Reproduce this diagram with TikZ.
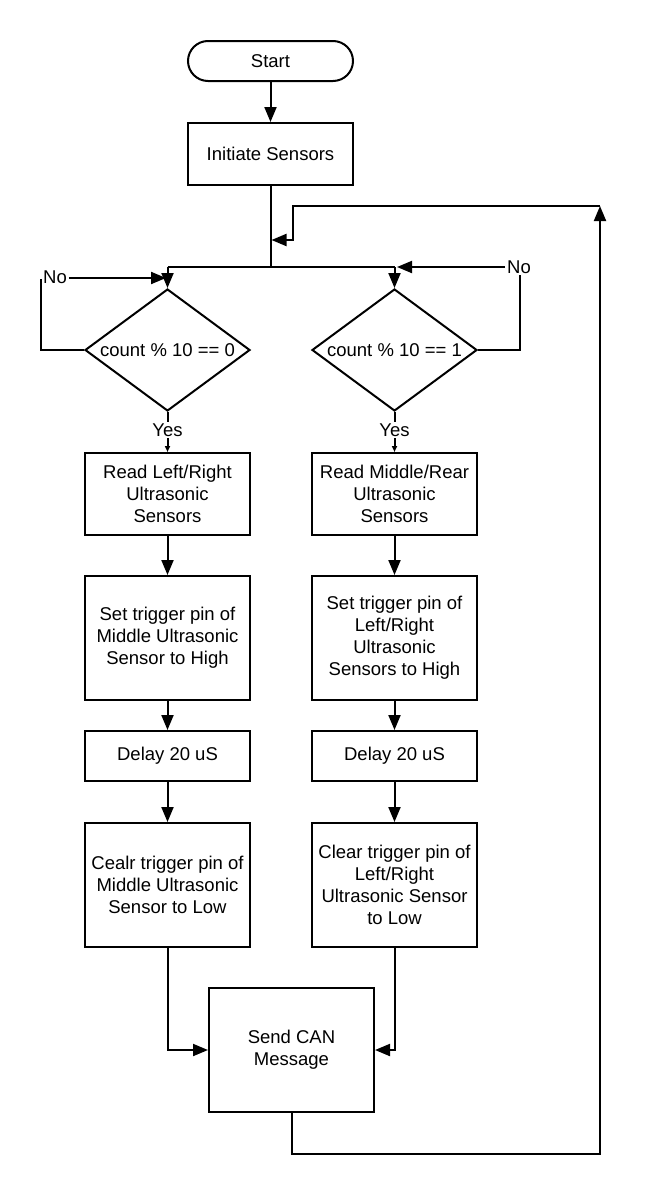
\documentclass[tikz,border=0pt]{standalone}
\usepackage{fontspec}
\setmainfont{Liberation Sans}
\usetikzlibrary{arrows.meta,shapes.geometric,shapes.misc}
\begin{document}
\begin{tikzpicture}[x=1pt,y=-1pt,line width=2pt,
  txt/.style={font=\fontsize{18.5}{22}\selectfont},
  box/.style={draw,txt,minimum width=165pt,align=center,inner sep=0pt},
  dec/.style={draw,diamond,minimum width=165pt,minimum height=122pt,inner sep=0pt},
  term/.style={draw,txt,rounded rectangle,minimum width=165pt,minimum height=40pt,inner sep=0pt},
  lbl/.style={txt,inner sep=1pt},
  arr/.style={-{Triangle[length=15pt,width=12pt]}},
  sarr/.style={-{Triangle[length=6pt,width=5pt]}}]
\useasboundingbox (0,0) rectangle (648,1197);
\node[term] (start) at (270.5,61) {Start};
\node[box,minimum height=62pt] (init) at (270.5,154) {Initiate Sensors};
\node[dec,label={[txt]center:count \% 10 == 0}] (d1) at (167.5,350) {};
\node[dec,label={[txt]center:count \% 10 == 1}] (d2) at (394.5,350) {};
\node[lbl] (yes1) at (167.5,430) {Yes};
\node[lbl] (yes2) at (394.5,430) {Yes};
\node[lbl] (no1) at (55,277) {No};
\node[lbl] (no2) at (519,267) {No};
\node[box,minimum height=82pt] (r1) at (167.5,494) {Read Left/Right\\Ultrasonic\\Sensors};
\node[box,minimum height=82pt] (r2) at (394.5,494) {Read Middle/Rear\\Ultrasonic\\Sensors};
\node[box,minimum height=124pt] (s1) at (167.5,638) {Set trigger pin of\\Middle Ultrasonic\\Sensor to High};
\node[box,minimum height=124pt] (s2) at (394.5,638) {Set trigger pin of\\Left/Right\\Ultrasonic\\Sensors to High};
\node[box,minimum height=50pt] (dl1) at (167.5,756) {Delay 20 uS};
\node[box,minimum height=50pt] (dl2) at (394.5,756) {Delay 20 uS};
\node[box,minimum height=124pt] (c1) at (167.5,885) {Cealr trigger pin of\\Middle Ultrasonic\\Sensor to Low};
\node[box,minimum height=124pt] (c2) at (394.5,885) {Clear trigger pin of\\Left/Right\\Ultrasonic Sensor\\to Low};
\node[box,minimum height=124pt] (send) at (291.5,1050) {Send CAN\\Message};
\coordinate (split) at (270.5,267);
\coordinate (jl) at (167.5,267);
\coordinate (jr) at (394.5,267);
\coordinate (mj) at (271.5,240);
\coordinate (rt) at (600,206);
\coordinate (bt) at (600,1154);
\coordinate (tl) at (166,278);
\coordinate (tr) at (397,267);
\draw[arr] (start) -- (init);
\draw (init.south) -- (split);
\draw (jl) -- (jr);
\draw[arr] (jl) -- (d1.north);
\draw[arr] (jr) -- (d2.north);
\draw (d1.west) -| ([yshift=6pt]no1.south west);
\draw[arr] (no1.east |- tl) -- (tl);
\draw (d2.east) -| ([xshift=1pt]no2.south);
\draw[arr] (no2.west |- tr) -- (tr);
\draw (d1.south) -- (yes1.north);
\draw (d2.south) -- (yes2.north);
\draw[sarr] (yes1.south) -- (r1.north);
\draw[sarr] (yes2.south) -- (r2.north);
\draw[arr] (r1) -- (s1);
\draw[arr] (s1) -- (dl1);
\draw[arr] (dl1) -- (c1);
\draw[arr] (r2) -- (s2);
\draw[arr] (s2) -- (dl2);
\draw[arr] (dl2) -- (c2);
\draw[arr] (c1.south) |- (send.west);
\draw[arr] (c2.south) |- (send.east);
\draw[arr] (send.south) |- (bt) -- (rt);
\draw[arr] (rt) -| (293,240) -- (mj);
\end{tikzpicture}
\end{document}
